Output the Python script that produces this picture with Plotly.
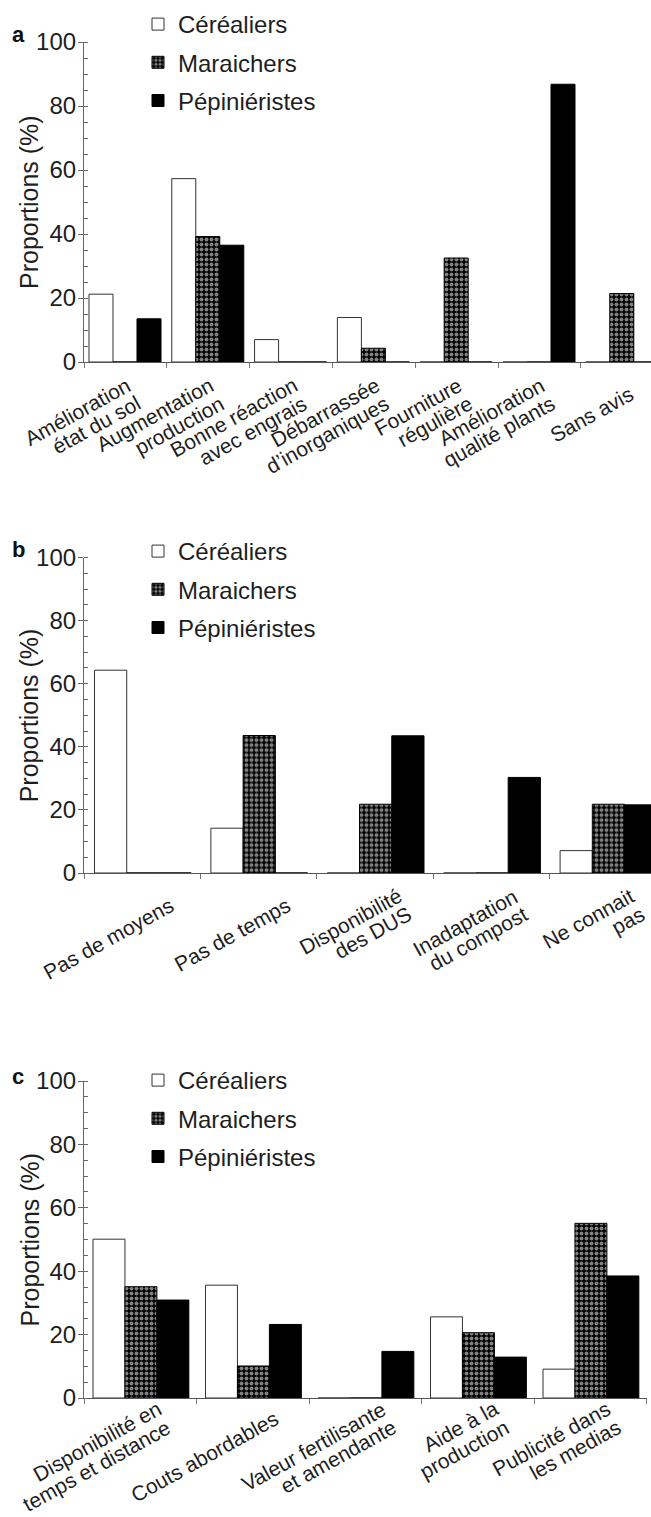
import math
import plotly.graph_objects as go

# ---------------- data ----------------
series = ["Céréaliers", "Maraichers", "Pépiniéristes"]

cats_a = ["Amélioration<br>état du sol", "Augmentation<br>production", "Bonne réaction<br>avec engrais",
          "Débarrassée<br>d’inorganiques", "Fourniture<br>régulière", "Amélioration<br>qualité plants",
          "Sans avis"]
cer_a = [21.2, 57.3, 7.0, 13.9, 0, 0, 0]
mar_a = [0, 39.2, 0, 4.3, 32.5, 0, 21.4]
pep_a = [13.5, 36.5, 0, 0, 0, 86.8, 0]

cats_b = ["Pas de moyens", "Pas de temps", "Disponibilité<br>des DUS", "Inadaptation<br>du compost",
          "Ne connait<br>pas"]
cer_b = [64.3, 14.2, 0, 0, 7.1]
mar_b = [0, 43.6, 21.8, 0, 21.8]
pep_b = [0, 0, 43.5, 30.3, 21.6]

cats_c = ["Disponibilité en<br>temps et distance", "Couts abordables", "Valeur fertilisante<br>et amendante",
          "Aide à la<br>production", "Publicité dans<br>les medias"]
cer_c = [50.1, 35.6, 0, 25.6, 9.1]
mar_c = [35.1, 10.1, 0, 20.6, 55.1]
pep_c = [30.9, 23.2, 14.7, 12.9, 38.5]

y_ticks = [0, 20, 40, 60, 80, 100]
y_title = "Proportions (%)"

# ---------------- layout geometry ----------------
W, H = 651, 1517
L = 84
FONT = "Liberation Sans, Arial, Helvetica, sans-serif"
INK = "#1e1e1e"
XFS = 21.0            # x label font size
LINE = 21.0           # x label line spacing (px, perpendicular)
HB = XFS * 1.117      # single-line text box height
ANG = 29.0
SN, CS = math.sin(math.radians(ANG)), math.cos(math.radians(ANG))

def px_x(p):
    return (p - L) / (W - L)

def px_y(p):
    return 1 - p / H

panels = [
    # cats, data, x-range, x-domain, y0px, y100px, bar width, first offset, legend, legend top px,
    # label y px, letter, label-end offset (dx, dy)
    (cats_a, (cer_a, mar_a, pep_a), [-0.5, -0.5 + (W - L) / 82.8], [0, 1], 362, 42, 0.29, -0.44,
     "legend", 2, 35, "a", (10, 29)),
    (cats_b, (cer_b, mar_b, pep_b), [-0.5, -0.5 + (W - L) / 116.4], [0, 1], 873, 557.6, 0.277, -0.41,
     "legend2", 529, 549, "b", (31, 29)),
    (cats_c, (cer_c, mar_c, pep_c), [-0.5, 4.5], [0, px_x(646.5)], 1398, 1081, 0.284, -0.42,
     "legend3", 1058, 1076, "c", (25, 17)),
]

styles = [
    dict(color="white", line=dict(color="#333333", width=1)),
    dict(color="black", line=dict(color="black", width=1),
         pattern=dict(shape=".", bgcolor="black", fgcolor="white", size=5, solidity=0.5)),
    dict(color="black", line=dict(color="black", width=1)),
]

fig = go.Figure()
layout = dict(width=W, height=H, margin=dict(l=L, r=0, t=0, b=0, autoexpand=False),
              paper_bgcolor="white", plot_bgcolor="white",
              font=dict(family=FONT, color=INK, size=20),
              barmode="overlay", showlegend=True)
annotations = []

for k, (cats, data, xr, xd, y0, y100, bw, off0, leg, legtop, laby, lab, (ex, ey)) in enumerate(panels):
    sfx = "" if k == 0 else str(k + 1)
    for i, (name, vals) in enumerate(zip(series, data)):
        fig.add_trace(go.Bar(
            x=cats, y=vals, name=name, marker=styles[i],
            width=bw, offset=off0 + i * bw,
            xaxis="x" + sfx, yaxis="y" + sfx, legend=leg,
            legendgroup=f"{leg}_{i}", showlegend=True,
        ))
    layout["xaxis" + sfx] = dict(
        domain=xd, range=xr, anchor="y" + sfx, type="category",
        categoryorder="array", categoryarray=cats,
        showline=True, linecolor="#555555", linewidth=1.2,
        ticks="outside", ticklen=5, tickcolor="#777777", tickson="boundaries",
        showticklabels=False,
        showgrid=False, zeroline=False, fixedrange=True, automargin=False,
    )
    layout["yaxis" + sfx] = dict(
        domain=[px_y(y0), px_y(y100)], range=[0, 100], anchor="x" + sfx,
        tickvals=y_ticks, ticks="outside", ticklen=5, tickcolor="#666666",
        minor=dict(dtick=5, tick0=0, ticks="inside", ticklen=4, tickcolor="#666666"),
        showline=True, linecolor="#666666", linewidth=1.2,
        tickfont=dict(size=24, family=FONT, color=INK), ticklabelstandoff=-3,
        showgrid=False, zeroline=False, fixedrange=True, automargin=False,
    )
    layout[leg] = dict(x=px_x(138), y=px_y(legtop), xanchor="left", yanchor="top",
                       font=dict(size=24, family=FONT, color=INK),
                       bgcolor="rgba(0,0,0,0)", tracegroupgap=4, itemwidth=30,
                       traceorder="grouped")
    # panel letter
    annotations.append(dict(text=f"<b>{lab}</b>", x=px_x(10), xref="paper", xanchor="left",
                            y=px_y(laby), yref="paper", yanchor="middle",
                            showarrow=False, font=dict(size=22, family=FONT, color="#111111")))
    # y-axis title
    annotations.append(dict(text=y_title, textangle=-90, x=px_x(29), xref="paper", xanchor="center",
                            y=0.5, yref=f"y{sfx} domain", yanchor="middle", showarrow=False,
                            font=dict(size=25, family=FONT, color=INK)))
    # rotated category labels (right-aligned lines)
    for cat in cats:
        lines = cat.split("<br>")
        n = len(lines)
        for j, txt in enumerate(lines):
            t = (j - (n - 1) / 2) * LINE
            endx = ex + t * SN
            endy = ey + t * CS
            annotations.append(dict(
                text=txt, x=cat, xref="x" + sfx, y=0, yref="y" + sfx,
                xanchor="right", yanchor="top", textangle=-ANG, borderpad=0,
                xshift=endx + HB / 2 * SN, yshift=-(endy - HB / 2 * CS),
                showarrow=False, font=dict(size=XFS, family=FONT, color=INK)))

layout["annotations"] = annotations
fig.update_layout(**layout)
fig.write_html("out.html", config={"displayModeBar": False},
               post_script="document.body.style.margin='0';document.body.style.overflow='hidden';")
